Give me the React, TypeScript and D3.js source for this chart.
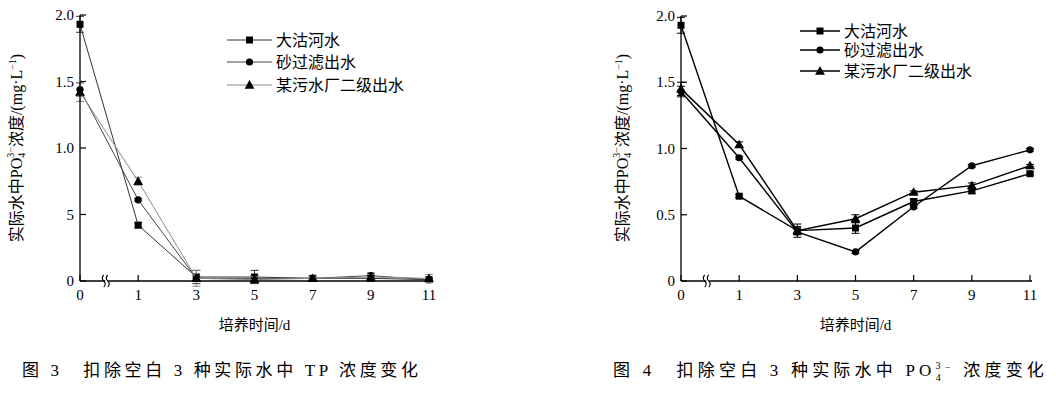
import React from "react";
import * as d3 from "d3";

// 培养时间 (d)
const days = [0, 1, 3, 5, 7, 9, 11];
const seriesNames = ["大沽河水", "砂过滤出水", "某污水厂二级出水"];

// 图3 TP
const tpRiver = [1.93, 0.42, 0.03, 0.03, 0.02, 0.02, 0.01];
const tpSand = [1.44, 0.61, 0.02, 0.02, 0.02, 0.04, 0.01];
const tpPlant = [1.42, 0.75, 0.02, 0.01, 0.02, 0.03, 0.02];
const tpRiverErr = [0.06, 0.02, 0.05, 0.05, 0.01, 0.01, 0.01];
const tpSandErr = [0.05, 0.01, 0.02, 0.02, 0.01, 0.02, 0.01];
const tpPlantErr = [0.07, 0.03, 0.06, 0.02, 0.01, 0.02, 0.03];

// 图4 PO4 3-
const poRiver = [1.93, 0.64, 0.38, 0.4, 0.6, 0.68, 0.81];
const poSand = [1.43, 0.93, 0.37, 0.22, 0.56, 0.87, 0.99];
const poPlant = [1.45, 1.03, 0.38, 0.47, 0.67, 0.72, 0.87];
const poRiverErr = [0.06, 0.01, 0.05, 0.04, 0.02, 0.02, 0.01];
const poSandErr = [0.04, 0.01, 0.02, 0.01, 0.01, 0.01, 0.01];
const poPlantErr = [0.05, 0.02, 0.03, 0.03, 0.01, 0.02, 0.01];

const yTicks = [0, 0.5, 1, 1.5, 2];
const yLabelsTP = ["0", "5", "1.0", "1.5", "2.0"];
const yLabelsPO = ["0", "0.5", "1.0", "1.5", "2.0"];

const FONT = "'Liberation Serif', 'Noto Sans CJK SC', serif";
const markers = ["square", "circle", "triangle"];

type Series = { name: string; values: number[]; errs: number[]; color: string; width: number; marker: string };

const Marker = ({ kind, cx, cy }: { kind: string; cx: number; cy: number }) => {
  if (kind === "square") return <rect x={cx - 3.5} y={cy - 3.5} width={7} height={7} fill="#000" />;
  if (kind === "circle") return <circle cx={cx} cy={cy} r={3.6} fill="#000" />;
  const p = d3.symbol().type(d3.symbolTriangle).size(42)();
  return <path d={p || ""} transform={`translate(${cx},${cy + 0.8})`} fill="#000" />;
};

const Panel = ({ x0, x1, yTop, y0, series, yLabels, legend, titleX }: any) => {
  const x = d3.scaleLinear().domain([-1, 11]).range([x0, x1]);
  const y = d3.scaleLinear().domain([0, 2]).range([y0, yTop]);
  const xp = (d: number) => x(d === 0 ? -1 : d);
  const line = d3
    .line<number>()
    .x((_, i) => xp(days[i]))
    .y((v) => y(v));
  const bx = x(-0.08);
  return (
    <g>
      {series.map((s: Series, k: number) => (
        <g key={k}>
          <path d={line(s.values) || ""} fill="none" stroke={s.color} strokeWidth={s.width} />
          {s.values.map((v, i) => {
            const cx = xp(days[i]);
            return (
              <g key={i} stroke={s.color} strokeWidth={1}>
                <line x1={cx} x2={cx} y1={y(v - s.errs[i])} y2={y(v + s.errs[i])} />
                <line x1={cx - 4} x2={cx + 4} y1={y(v + s.errs[i])} y2={y(v + s.errs[i])} />
                <line x1={cx - 4} x2={cx + 4} y1={y(v - s.errs[i])} y2={y(v - s.errs[i])} />
              </g>
            );
          })}
          {s.values.map((v, i) => (
            <Marker key={"m" + i} kind={s.marker} cx={xp(days[i])} cy={y(v)} />
          ))}
        </g>
      ))}
      {/* axes */}
      <line x1={x0} x2={x0} y1={y0} y2={y(2)} stroke="#000" strokeWidth={1.3} />
      <line x1={x0} x2={x(11) + 2} y1={y0} y2={y0} stroke="#000" strokeWidth={1.3} />
      {yTicks.map((t, i) => (
        <g key={i}>
          <line x1={x0} x2={x0 + 6} y1={y(t)} y2={y(t)} stroke="#000" strokeWidth={1.2} />
          <text x={x0 - 6} y={y(t) + 5} textAnchor="end" fontSize={15} fontFamily={FONT}>
            {yLabels[i]}
          </text>
        </g>
      ))}
      {days.map((d, i) => (
        <g key={i}>
          <line x1={xp(d)} x2={xp(d)} y1={y0} y2={y0 - 6} stroke="#000" strokeWidth={1.2} />
          <text x={xp(d)} y={y0 + 19} textAnchor="middle" fontSize={15} fontFamily={FONT}>
            {d}
          </text>
        </g>
      ))}
      {/* break mark */}
      <rect x={bx - 1.5} y={y0 - 2} width={3} height={4} fill="#fff" />
      {[-2, 2].map((o) => (
        <path
          key={o}
          d={`M${bx + o - 1},${y0 + 6} q3,-3 0,-6 q-3,-3 0,-6`}
          fill="none"
          stroke="#000"
          strokeWidth={1.1}
        />
      ))}
      {/* legend */}
      {series.map((s: Series, k: number) => (
        <g key={"lg" + k}>
          <line x1={legend.x} x2={legend.x + legend.len} y1={legend.ys[k]} y2={legend.ys[k]} stroke={s.color} strokeWidth={s.width} />
          <Marker kind={s.marker} cx={legend.x + legend.len / 2} cy={legend.ys[k]} />
          <text x={legend.x + legend.len + 4} y={legend.ys[k] + 6} fontSize={16} fontFamily={FONT}>
            {s.name}
          </text>
        </g>
      ))}
      {/* y title */}
      <text transform={`translate(${titleX},148) rotate(-90)`} textAnchor="middle" fontSize={16} fontFamily={FONT}>
        实际水中PO
        <tspan dy={3} fontSize={10}>4</tspan>
        <tspan dx={-5} dy={-11} fontSize={10}>3−</tspan>
        <tspan dy={8}>浓度/(mg·L</tspan>
        <tspan dy={-6} fontSize={10}>−1</tspan>
        <tspan dy={6}>)</tspan>
      </text>
      <text x={(x0 + x1) / 2} y={330} textAnchor="middle" fontSize={15} fontFamily={FONT}>
        培养时间/d
      </text>
    </g>
  );
};

export default function App() {
  const tpSeries: Series[] = [
    { name: seriesNames[0], values: tpRiver, errs: tpRiverErr, color: "#333", width: 1, marker: markers[0] },
    { name: seriesNames[1], values: tpSand, errs: tpSandErr, color: "#444", width: 1, marker: markers[1] },
    { name: seriesNames[2], values: tpPlant, errs: tpPlantErr, color: "#8a8a8a", width: 1, marker: markers[2] },
  ];
  const poSeries: Series[] = [
    { name: seriesNames[0], values: poRiver, errs: poRiverErr, color: "#000", width: 1.4, marker: markers[0] },
    { name: seriesNames[1], values: poSand, errs: poSandErr, color: "#000", width: 1.4, marker: markers[1] },
    { name: seriesNames[2], values: poPlant, errs: poPlantErr, color: "#000", width: 1.4, marker: markers[2] },
  ];
  return (
    <svg width={1056} height={394} style={{ position: "absolute", left: 0, top: 0, background: "#fff" }}>
      <Panel x0={80} x1={429} yTop={15} y0={281} series={tpSeries} yLabels={yLabelsTP}
        legend={{ x: 227, len: 45, ys: [40, 62, 85] }} titleX={22} />
      <Panel x0={681} x1={1030} yTop={16} y0={281} series={poSeries} yLabels={yLabelsPO}
        legend={{ x: 800, len: 40, ys: [31, 50, 71] }} titleX={628} />
      <text x={22} y={376} fontSize={17} fontFamily={FONT} textLength={396} lengthAdjust="spacing">
        图 3　扣除空白 3 种实际水中 TP 浓度变化
      </text>
      <text x={613} y={376} fontSize={17} fontFamily={FONT} letterSpacing={4.2}>
        图 4　扣除空白 3 种实际水中 PO
        <tspan dy={-7} fontSize={10}>3</tspan>
        <tspan dx={-9} dy={12} fontSize={10}>4</tspan>
        <tspan dy={-10} fontSize={10}>−</tspan>
        <tspan dy={5}> 浓度变化</tspan>
      </text>
    </svg>
  );
}
